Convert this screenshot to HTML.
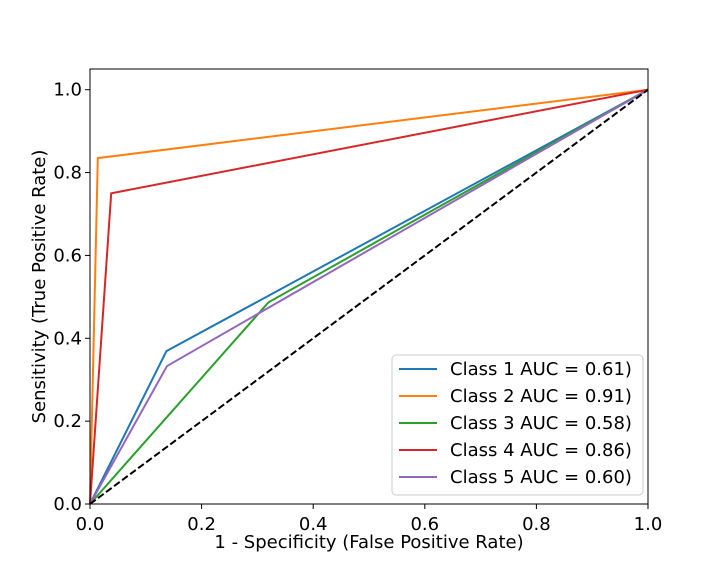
<!DOCTYPE html>
<html><head><meta charset="utf-8"><style>
body{margin:0;background:#fff;}
svg text{font-family:"DejaVu Sans","Liberation Sans",sans-serif;fill:#000;}
</style></head><body>
<svg id="chart" width="720" height="576" xmlns="http://www.w3.org/2000/svg">
<rect width="720" height="576" fill="#fff"/>
<g id="plot"></g>
</svg>
<script>
const classNames=["Class 1 AUC = 0.61)","Class 2 AUC = 0.91)","Class 3 AUC = 0.58)","Class 4 AUC = 0.86)","Class 5 AUC = 0.60)"];
const colors=["#1f77b4","#ff7f0e","#2ca02c","#d62728","#9467bd"];
const fprValues=[[0,0.137,1],[0,0.014,1],[0,0.32,1],[0,0.038,1],[0,0.138,1]];
const tprValues=[[0,0.369,1],[0,0.835,1],[0,0.487,1],[0,0.75,1],[0,0.333,1]];
const xTicks=[0,0.2,0.4,0.6,0.8,1.0];
const yTicks=[0,0.2,0.4,0.6,0.8,1.0];
const xTickLabels=["0.0","0.2","0.4","0.6","0.8","1.0"];
const yTickLabels=["0.0","0.2","0.4","0.6","0.8","1.0"];

const NS="http://www.w3.org/2000/svg";
const L=90,R=648,T=69,B=504;
const FS=18;
const sx=v=>L+v*(R-L);
const sy=v=>B-v/1.05*(B-T);
const g=document.getElementById('plot');
function mk(tag,attrs,parent){const e=document.createElementNS(NS,tag);for(const k in attrs)e.setAttribute(k,attrs[k]);(parent||g).appendChild(e);return e;}

classNames.forEach((n,i)=>{
  const pts=fprValues[i].map((x,j)=>sx(x)+','+sy(tprValues[i][j])).join(' ');
  const p=mk('polyline',{points:pts,fill:'none',stroke:colors[i],'stroke-width':2});
  
  
});
const d=mk('line',{x1:sx(0),y1:sy(0),x2:sx(1),y2:sy(1),stroke:'#000','stroke-width':2,'stroke-dasharray':'7,3'});



const fr=mk('rect',{x:L,y:T,width:R-L,height:B-T,fill:'none',stroke:'#000','stroke-width':1});



xTicks.forEach((v,i)=>{
  mk('line',{x1:sx(v),y1:B,x2:sx(v),y2:B+5,stroke:'#000'});
  const t=mk('text',{x:sx(v),y:B+26,'text-anchor':'middle','font-size':FS});
  t.textContent=xTickLabels[i];
  
  
});
yTicks.forEach((v,i)=>{
  mk('line',{x1:L-5,y1:sy(v),x2:L,y2:sy(v),stroke:'#000'});
  const t=mk('text',{x:L-8,y:sy(v)+6,'text-anchor':'end','font-size':FS});
  t.textContent=yTickLabels[i];
  
  
});
const xt=mk('text',{x:(L+R)/2,y:548,'text-anchor':'middle','font-size':FS});
xt.textContent='1 - Specificity (False Positive Rate)';


const yt=mk('text',{x:0,y:0,'text-anchor':'middle','font-size':FS,transform:'translate(45,'+((T+B)/2)+') rotate(-90)'});
yt.textContent='Sensitivity (True Positive Rate)';



const lg=mk('g',{});


mk('rect',{x:392,y:355,width:251,height:140,rx:4,fill:'#fff','fill-opacity':0.8,stroke:'#ccc'},lg);
classNames.forEach((n,i)=>{
  const y=369+i*27;
  const ln=mk('line',{x1:399,y1:y,x2:437,y2:y,stroke:colors[i],'stroke-width':2},lg);
  
  
  const t=mk('text',{x:450,y:y+6,'font-size':FS},lg);
  t.textContent=n;
  
  
});
</script>
</body></html>
